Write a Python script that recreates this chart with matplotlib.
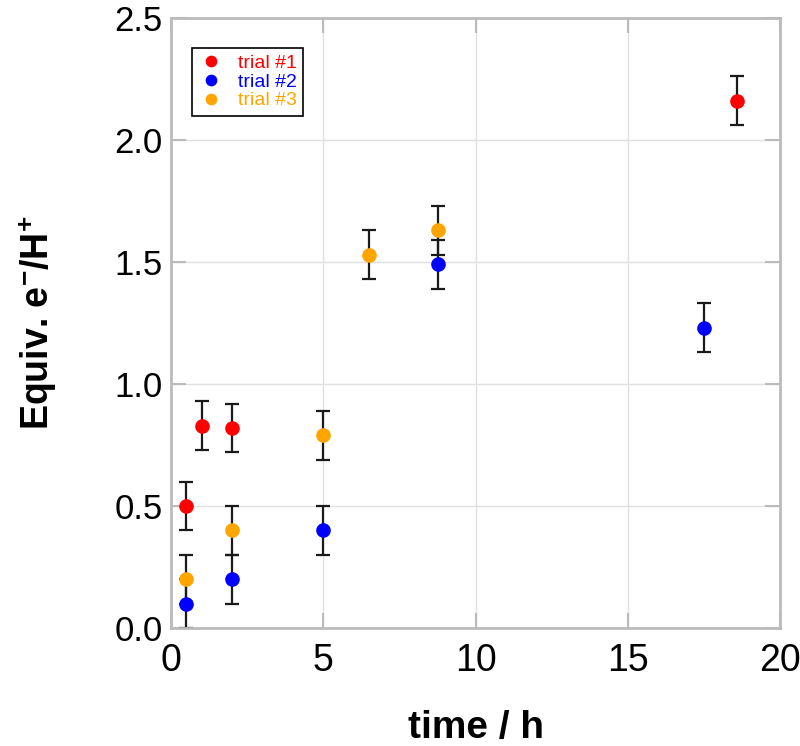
import numpy as np
import matplotlib.pyplot as plt

plt.rcParams['font.family'] = ['Liberation Sans', 'DejaVu Sans']
plt.rcParams['mathtext.fontset'] = 'custom'
plt.rcParams['mathtext.rm'] = 'Liberation Sans:bold'
plt.rcParams['mathtext.bf'] = 'Liberation Sans:bold'
plt.rcParams['mathtext.default'] = 'bf'

# trial data (time / h, equiv.), error +/- 0.1
t1 = np.array([0.5, 1.0, 2.0, 18.6])
y1 = np.array([0.50, 0.83, 0.82, 2.16])
t2 = np.array([0.5, 2.0, 5.0, 8.75, 17.5])
y2 = np.array([0.10, 0.20, 0.40, 1.49, 1.23])
t3 = np.array([0.5, 2.0, 5.0, 6.5, 8.75])
y3 = np.array([0.20, 0.40, 0.79, 1.53, 1.63])
err = 0.1

labels = ['trial #1', 'trial #2', 'trial #3']
colors = ['red', 'blue', 'orange']

fig = plt.figure(figsize=(8, 7.46), dpi=100)
ax = fig.add_axes([0.214, 0.158, 0.761, 0.818])

for t, y, c, lab in zip([t1, t2, t3], [y1, y2, y3], colors, labels):
    ax.errorbar(t, y, yerr=err, fmt='none', ecolor='#1a1a1a', elinewidth=1.6,
                capsize=4.8, capthick=1.6, zorder=2)
    ax.plot(t, y, 'o', color=c, markersize=9.5, label=lab, zorder=3)

ax.set_xlim(0, 20)
ax.set_ylim(0, 2.5)
ax.set_xticks([0, 5, 10, 15, 20])
ax.set_yticks([0, 0.5, 1.0, 1.5, 2.0, 2.5])
ax.set_yticklabels(['0.0', '0.5', '1.0', '1.5', '2.0', '2.5'])
ax.grid(color='#e0e0e0', linewidth=1)
ax.set_axisbelow(True)
for s in ax.spines.values():
    s.set_color('#bbbbbb')
    s.set_linewidth(2)
ax.tick_params(direction='in', length=11, width=1.5, color='#bbbbbb',
               top=True, right=True)
ax.tick_params(axis='x', pad=11, labelsize=27)
ax.tick_params(axis='y', pad=6, labelsize=25)

ax.set_xlabel('time / h', fontsize=28, fontweight='bold', labelpad=22)
ax.set_ylabel('Equiv. e$^{-}$/H$^{+}$', fontsize=27, fontweight='bold', labelpad=40)

leg = ax.legend(loc='upper left', bbox_to_anchor=(0.034, 0.951), fontsize=14,
                handletextpad=0.7, borderpad=0.35, labelspacing=0.05,
                handlelength=1.3, markerscale=0.78, borderaxespad=0,
                fancybox=False, framealpha=1)
leg.get_frame().set_edgecolor('black')
leg.get_frame().set_linewidth(1.2)
for txt, c in zip(leg.get_texts(), colors):
    txt.set_color(c)

plt.savefig('out.png', dpi=100)
